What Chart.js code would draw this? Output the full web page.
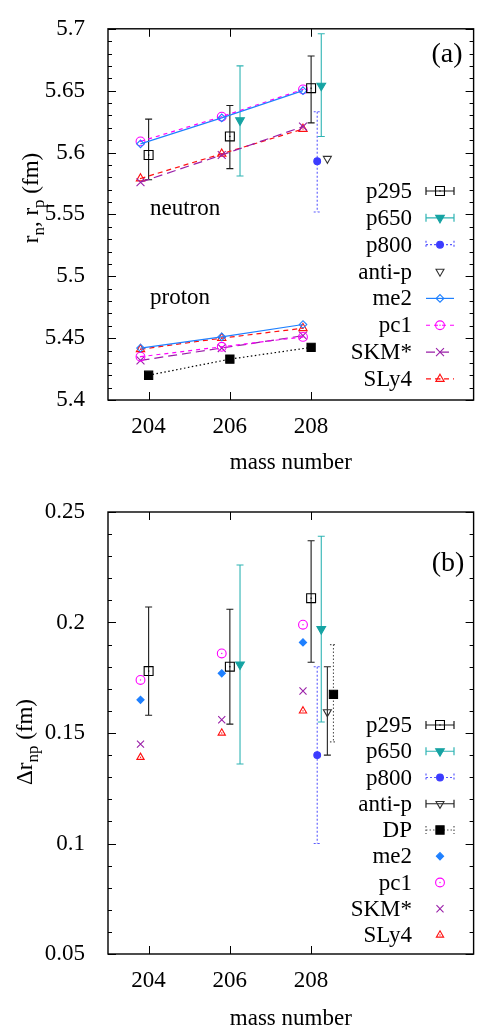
<!DOCTYPE html>
<html>
<head>
<meta charset="utf-8">
<script src="https://cdn.jsdelivr.net/npm/chart.js@4.4.1/dist/chart.umd.min.js"></script>
<style>
    html, body { margin: 0; padding: 0; background: #fff; }
    canvas { position: absolute; left: 0; display: block; }
    #radii { top: 0; }
    #skin { top: 470px; }
</style>
</head>
<body>
<canvas id="radii" width="481" height="470"></canvas>
<canvas id="skin" width="481" height="560"></canvas>
<script>
// x positions (mass number, model points drawn a bit left, experiments a bit right)
const massModel = [203.8, 205.8, 207.8];
const massP295 = [204, 206, 208];
const massP650 = [206.25, 208.25];
const massP800 = [208.15];
const massAntiP = [208.4];
const massDP = [208.55];

const massTicks = [204, 206, 208];
const radiusTicks = [5.4, 5.45, 5.5, 5.55, 5.6, 5.65, 5.7];
const skinTicks = [0.05, 0.1, 0.15, 0.2, 0.25];

// panel (a): r_n (upper group) and r_p (lower group)
const me2Neutron = [5.607, 5.628, 5.650];
const pc1Neutron = [5.609, 5.629, 5.651];
const skmNeutron = [5.576, 5.598, 5.621];
const sly4Neutron = [5.579, 5.599, 5.619];
const me2Proton = [5.442, 5.451, 5.461];
const pc1Proton = [5.435, 5.443, 5.451];
const skmProton = [5.432, 5.442, 5.452];
const sly4Proton = [5.441, 5.450, 5.458];
const dpProton = [5.420, 5.433, 5.4425];

const p295Radius = [5.598, 5.613, 5.652];
const p295RadiusLo = [5.578, 5.587, 5.624];
const p295RadiusHi = [5.627, 5.638, 5.678];
const p650Radius = [5.626, 5.654];
const p650RadiusLo = [5.581, 5.613];
const p650RadiusHi = [5.670, 5.696];
const p800Radius = [5.593];
const p800RadiusLo = [5.552];
const p800RadiusHi = [5.633];
const antiPRadius = [5.595];

// panel (b): neutron skin
const me2Skin = [0.165, 0.177, 0.191];
const pc1Skin = [0.174, 0.186, 0.199];
const skmSkin = [0.145, 0.156, 0.169];
const sly4Skin = [0.139, 0.150, 0.160];

const p295Skin = [0.178, 0.180, 0.211];
const p295SkinLo = [0.158, 0.154, 0.182];
const p295SkinHi = [0.207, 0.206, 0.237];
const p650Skin = [0.181, 0.197];
const p650SkinLo = [0.136, 0.155];
const p650SkinHi = [0.226, 0.239];
const p800Skin = [0.140];
const p800SkinLo = [0.100];
const p800SkinHi = [0.180];
const antiPSkin = [0.1595];
const antiPSkinLo = [0.140];
const antiPSkinHi = [0.180];
const dpSkin = [0.1675];
const dpSkinLo = [0.146];
const dpSkinHi = [0.190];

const SERIF = "'Liberation Serif', 'Times New Roman', 'DejaVu Serif', serif";

const STYLE = {
    p295: { color: "#000", pointStyle: "rect", radius: 6.3, fill: false, dot: true, bar: "#1a1a1a", barDash: [] },
    p650: { color: "#16a3a3", pointStyle: "triangle", rotation: 180, radius: 5, fill: true, bar: "#2fb4b4", barDash: [] },
    p800: { color: "#3c3cff", pointStyle: "circle", radius: 3.4, fill: true, bar: "#5a5aff", barDash: [2, 2] },
    antiP: { color: "#333", pointStyle: "triangle", rotation: 180, radius: 4.6, fill: false, bar: "#222", barDash: [] },
    dp: { color: "#000", pointStyle: "rect", radius: 5.8, fill: true, bar: "#555", barDash: [1.5, 2], line: [1.5, 2.5] },
    me2: { color: "#1f80ff", pointStyle: "rectRot", radius: 3.8, fill: false, line: [] },
    pc1: { color: "#ff00ff", pointStyle: "circle", radius: 4.4, fill: false, dot: true, line: [4, 4] },
    skm: { color: "#9a1fa8", pointStyle: "crossRot", radius: 5.6, fill: false, line: [9, 5] },
    sly4: { color: "#ff1010", pointStyle: "triangle", radius: 4.8, fill: false, dot: true, line: [5, 4] }
};

function pts(xs, ys) {
    return xs.map((x, i) => ({ x, y: ys[i] }));
}

function series(key, xs, ys, extra = {}) {
    const s = Object.assign({}, STYLE[key], extra.style || {});
    return {
        styleKey: key,
        style: s,
        data: pts(xs, ys),
        showLine: !!extra.line,
        borderColor: s.color,
        borderWidth: 1.2,
        borderDash: s.line || [],
        pointStyle: s.pointStyle,
        pointRadius: s.radius,
        pointHoverRadius: s.radius,
        pointRotation: s.rotation || 0,
        pointBorderColor: s.color,
        pointBorderWidth: 1.1,
        pointBackgroundColor: s.fill ? s.color : "rgba(0,0,0,0)",
        errLo: extra.lo,
        errHi: extra.hi
    };
}

function drawMarker(ctx, s, x, y) {
    ctx.save();
    ctx.setLineDash([]);
    ctx.strokeStyle = s.color;
    ctx.fillStyle = s.fill ? s.color : "rgba(0,0,0,0)";
    ctx.lineWidth = 1.1;
    Chart.helpers.drawPoint(ctx, { pointStyle: s.pointStyle, radius: s.radius, rotation: s.rotation || 0, borderWidth: 1.1 }, x, y);
    if (s.dot) {
        ctx.fillStyle = s.color;
        ctx.fillRect(x - 0.6, y - 0.6, 1.2, 1.2);
    }
    ctx.restore();
}

// error bars, drawn under the markers
const errorBars = {
    id: "errorBars",
    beforeDatasetsDraw(chart) {
        const { ctx, scales: { x, y } } = chart;
        chart.data.datasets.forEach(ds => {
            if (!ds.errLo) return;
            ctx.save();
            ctx.strokeStyle = ds.style.bar;
            ctx.lineWidth = 1.1;
            ctx.setLineDash(ds.style.barDash);
            ds.data.forEach((p, i) => {
                const px = x.getPixelForValue(p.x);
                const top = y.getPixelForValue(ds.errHi[i]);
                const bot = y.getPixelForValue(ds.errLo[i]);
                ctx.beginPath();
                ctx.moveTo(px, top); ctx.lineTo(px, bot);
                ctx.moveTo(px - 3.5, top); ctx.lineTo(px + 3.5, top);
                ctx.moveTo(px - 3.5, bot); ctx.lineTo(px + 3.5, bot);
                ctx.stroke();
            });
            ctx.restore();
        });
    },
    afterDatasetsDraw(chart) {
        // gnuplot puts a tiny dot in the middle of open markers
        const { ctx } = chart;
        chart.data.datasets.forEach((ds, i) => {
            if (!ds.style.dot) return;
            ctx.fillStyle = ds.style.color;
            chart.getDatasetMeta(i).data.forEach(el => ctx.fillRect(el.x - 0.6, el.y - 0.6, 1.2, 1.2));
        });
    }
};

// box + inward ticks on all four sides, x tick labels below
const frame = {
    id: "frame",
    afterDraw(chart, args, opts) {
        const { ctx, chartArea: a, scales: { x, y } } = chart;
        ctx.save();
        ctx.strokeStyle = "#000";
        ctx.lineWidth = 1.4;
        ctx.strokeRect(a.left, a.top, a.right - a.left, a.bottom - a.top);
        ctx.lineWidth = 1;
        ctx.beginPath();
        massTicks.forEach(v => {
            const px = Math.round(x.getPixelForValue(v)) + 0.5;
            ctx.moveTo(px, a.bottom); ctx.lineTo(px, a.bottom - 8);
            ctx.moveTo(px, a.top); ctx.lineTo(px, a.top + 8);
        });
        const n = Math.round((y.max - y.min) / opts.minor);
        for (let i = 0; i <= n; i++) {
            const py = Math.round(y.getPixelForValue(y.min + i * opts.minor)) + 0.5;
            const len = i % 5 === 0 ? 8 : 4;
            ctx.moveTo(a.left, py); ctx.lineTo(a.left + len, py);
            ctx.moveTo(a.right, py); ctx.lineTo(a.right - len, py);
        }
        ctx.stroke();

        ctx.fillStyle = "#000";
        ctx.font = `23px ${SERIF}`;
        ctx.textAlign = "center";
        ctx.textBaseline = "alphabetic";
        massTicks.forEach(v => ctx.fillText(String(v), x.getPixelForValue(v), a.bottom + 33));
        ctx.fillText("mass number", (a.left + a.right) / 2, a.bottom + opts.titleGap);
        ctx.restore();
    }
};

// key box on the right, gnuplot style: text right aligned, sample to its right
const keyBox = {
    id: "keyBox",
    afterDraw(chart, args, opts) {
        const { ctx } = chart;
        ctx.save();
        ctx.font = `23px ${SERIF}`;
        ctx.fillStyle = "#000";
        ctx.textAlign = "right";
        ctx.textBaseline = "alphabetic";
        opts.entries.forEach((e, i) => {
            const yy = opts.y0 + i * opts.dy;
            const s = Object.assign({}, STYLE[e.key], e.style || {});
            ctx.fillText(e.name, opts.textRight, yy + 7);
            const l = opts.sampleLeft, r = opts.sampleLeft + 28, c = (l + r) / 2;
            if (e.bar || e.line) {
                ctx.save();
                ctx.strokeStyle = e.bar ? s.bar : s.color;
                ctx.lineWidth = 1.2;
                ctx.setLineDash(e.bar ? s.barDash : s.line);
                ctx.beginPath();
                ctx.moveTo(l, yy); ctx.lineTo(r, yy);
                if (e.bar) {
                    ctx.moveTo(l, yy - 4); ctx.lineTo(l, yy + 4);
                    ctx.moveTo(r, yy - 4); ctx.lineTo(r, yy + 4);
                }
                ctx.stroke();
                ctx.restore();
            }
            drawMarker(ctx, s, c, yy);
        });
        ctx.restore();
    }
};

// free text: panel tag, neutron/proton notes, y title with subscripts
const notes = {
    id: "notes",
    afterDraw(chart, args, opts) {
        const { ctx } = chart;
        ctx.save();
        ctx.fillStyle = "#000";
        ctx.textBaseline = "alphabetic";
        opts.texts.forEach(t => {
            ctx.font = `${t.size}px ${SERIF}`;
            ctx.textAlign = t.align || "left";
            ctx.fillText(t.text, t.x, t.y);
        });

        const big = 23, small = 17;
        const parts = opts.yTitle;
        let total = 0;
        parts.forEach(([txt, sub]) => {
            ctx.font = `${sub ? small : big}px ${SERIF}`;
            total += ctx.measureText(txt).width;
        });
        ctx.translate(opts.yTitleX, opts.yTitleY);
        ctx.rotate(-Math.PI / 2);
        ctx.textAlign = "left";
        let pos = -total / 2;
        parts.forEach(([txt, sub]) => {
            ctx.font = `${sub ? small : big}px ${SERIF}`;
            ctx.fillText(txt, pos, sub ? 6 : 0);
            pos += ctx.measureText(txt).width;
        });
        ctx.restore();
    }
};

function axes(yMin, yMax, yTicks, xHeight, decimals) {
    const font = { family: SERIF, size: 23 };
    return {
        x: {
            type: "linear", min: 203, max: 212,
            afterBuildTicks: s => { s.ticks = massTicks.map(v => ({ value: v })); },
            afterFit: s => { s.height = xHeight; },
            grid: { display: false }, border: { display: false },
            ticks: { display: false }
        },
        y: {
            type: "linear", min: yMin, max: yMax,
            afterBuildTicks: s => { s.ticks = yTicks.map(v => ({ value: v })); },
            afterFit: s => { s.width = 108; },
            grid: { display: false }, border: { display: false },
            ticks: { font, color: "#000", padding: 15, autoSkip: false, callback: v => String(+v.toFixed(decimals)) }
        }
    };
}

const radiiSets = [
    series("p295", massP295, p295Radius, { lo: p295RadiusLo, hi: p295RadiusHi }),
    series("p650", massP650, p650Radius, { lo: p650RadiusLo, hi: p650RadiusHi }),
    series("p800", massP800, p800Radius, { lo: p800RadiusLo, hi: p800RadiusHi }),
    series("antiP", massAntiP, antiPRadius),
    series("me2", massModel, me2Neutron, { line: true }),
    series("pc1", massModel, pc1Neutron, { line: true }),
    series("skm", massModel, skmNeutron, { line: true }),
    series("sly4", massModel, sly4Neutron, { line: true }),
    series("me2", massModel, me2Proton, { line: true }),
    series("sly4", massModel, sly4Proton, { line: true }),
    series("pc1", massModel, pc1Proton, { line: true }),
    series("skm", massModel, skmProton, { line: true }),
    series("dp", massP295, dpProton, { line: true })
];

new Chart(document.getElementById("radii"), {
    type: "scatter",
    data: { datasets: radiiSets },
    options: {
        responsive: false, animation: false, events: [],
        layout: { padding: { top: 12, right: 2, left: 0, bottom: 0 } },
        scales: axes(5.4, 5.7, radiusTicks, 70, 2),
        plugins: {
            legend: { display: false }, tooltip: { enabled: false },
            frame: { minor: 0.01, titleGap: 69 },
            keyBox: {
                textRight: 412, sampleLeft: 426, y0: 191, dy: 26.85,
                entries: [
                    { name: "p295", key: "p295", bar: true },
                    { name: "p650", key: "p650", bar: true },
                    { name: "p800", key: "p800", bar: true },
                    { name: "anti-p", key: "antiP" },
                    { name: "me2", key: "me2", line: true },
                    { name: "pc1", key: "pc1", line: true },
                    { name: "SKM*", key: "skm", line: true },
                    { name: "SLy4", key: "sly4", line: true }
                ]
            },
            notes: {
                texts: [
                    { text: "(a)", x: 447, y: 62, size: 28, align: "center" },
                    { text: "neutron", x: 150, y: 215, size: 23 },
                    { text: "proton", x: 150, y: 304, size: 23 }
                ],
                yTitle: [["r", 0], ["n", 1], [", r", 0], ["p", 1], [" (fm)", 0]],
                yTitleX: 38, yTitleY: 198
            }
        }
    },
    plugins: [errorBars, frame, keyBox, notes]
});

const filledDiamond = { fill: true, radius: 3.6 };
const skinSets = [
    series("p295", massP295, p295Skin, { lo: p295SkinLo, hi: p295SkinHi }),
    series("p650", massP650, p650Skin, { lo: p650SkinLo, hi: p650SkinHi }),
    series("p800", massP800, p800Skin, { lo: p800SkinLo, hi: p800SkinHi }),
    series("antiP", massAntiP, antiPSkin, { lo: antiPSkinLo, hi: antiPSkinHi }),
    series("dp", massDP, dpSkin, { lo: dpSkinLo, hi: dpSkinHi }),
    series("me2", massModel, me2Skin, { style: filledDiamond }),
    series("pc1", massModel, pc1Skin),
    series("skm", massModel, skmSkin, { style: { radius: 5 } }),
    series("sly4", massModel, sly4Skin, { style: { radius: 4.2 } })
];

new Chart(document.getElementById("skin"), {
    type: "scatter",
    data: { datasets: skinSets },
    options: {
        responsive: false, animation: false, events: [],
        layout: { padding: { top: 42, right: 2, left: 0, bottom: 0 } },
        scales: axes(0.05, 0.25, skinTicks, 76, 2),
        plugins: {
            legend: { display: false }, tooltip: { enabled: false },
            frame: { minor: 0.01, titleGap: 71 },
            keyBox: {
                textRight: 412, sampleLeft: 426, y0: 255, dy: 26.25,
                entries: [
                    { name: "p295", key: "p295", bar: true },
                    { name: "p650", key: "p650", bar: true },
                    { name: "p800", key: "p800", bar: true },
                    { name: "anti-p", key: "antiP", bar: true },
                    { name: "DP", key: "dp", bar: true },
                    { name: "me2", key: "me2", style: filledDiamond },
                    { name: "pc1", key: "pc1" },
                    { name: "SKM*", key: "skm", style: { radius: 5 } },
                    { name: "SLy4", key: "sly4", style: { radius: 4.2 } }
                ]
            },
            notes: {
                texts: [
                    { text: "(b)", x: 448, y: 101, size: 28, align: "center" }
                ],
                yTitle: [["\u0394r", 0], ["np", 1], [" (fm)", 0]],
                yTitleX: 32, yTitleY: 272
            }
        }
    },
    plugins: [errorBars, frame, keyBox, notes]
});
</script>
</body>
</html>
